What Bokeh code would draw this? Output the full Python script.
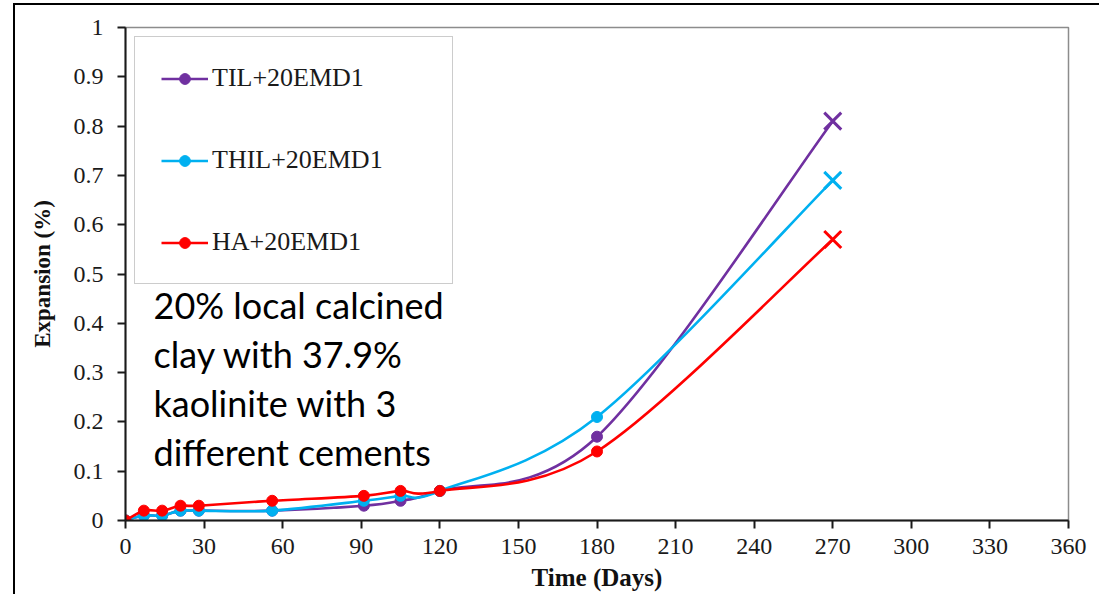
import numpy as np
from bokeh.plotting import figure
from bokeh.models import Range1d, FixedTicker, Legend, LegendItem, Label
from bokeh.embed import file_html
from bokeh.resources import INLINE

# ---------------- data ----------------
days = [0, 7, 14, 21, 28, 56, 91, 105, 120, 180, 270]
til = [0, 0.01, 0.01, 0.02, 0.02, 0.02, 0.03, 0.04, 0.06, 0.17, 0.81]
thil = [0, 0.01, 0.01, 0.02, 0.02, 0.02, 0.04, 0.05, 0.06, 0.21, 0.69]
ha = [0, 0.02, 0.02, 0.03, 0.03, 0.04, 0.05, 0.06, 0.06, 0.14, 0.57]
names = ["TIL+20EMD1", "THIL+20EMD1", "HA+20EMD1"]
colors = ["#7030A0", "#00B0F0", "#FF0000"]
x_ticks = [0, 30, 60, 90, 120, 150, 180, 210, 240, 270, 300, 330, 360]
y_ticks = [0, 0.1, 0.2, 0.3, 0.4, 0.5, 0.6, 0.7, 0.8, 0.9, 1]
note = "20% local calcined\nclay with 37.9%\nkaolinite with 3\ndifferent cements"

W, H = 1086, 591
p = figure(width=W, height=H, output_backend="svg", toolbar_location=None,
           x_range=Range1d(0, 360), y_range=Range1d(0, 1),
           min_border_left=110, min_border_right=W - 110 - 943,
           min_border_top=22, min_border_bottom=H - 22 - 493)
p.styles = {"border-left": "2px solid black", "border-top": "2px solid black",
            "margin-left": "13px", "margin-top": "3px"}
p.grid.visible = False
p.outline_line_color = "#8c8c8c"
p.outline_line_width = 1.5
p.background_fill_color = "white"
p.border_fill_color = "white"

serif = "Liberation Serif"
for ax in (p.xaxis[0], p.yaxis[0]):
    ax.axis_line_color = "#1a1a1a"
    ax.axis_line_width = 2
    ax.major_tick_line_color = "#1a1a1a"
    ax.major_tick_line_width = 2
    ax.major_tick_out = 8
    ax.major_tick_in = 0
    ax.minor_tick_line_color = None
    ax.major_label_text_font = serif
    ax.major_label_text_font_size = "24px"
    ax.major_label_text_color = "#1a1a1a"
    ax.axis_label_text_font = serif
    ax.axis_label_text_font_style = "bold"
    ax.axis_label_text_color = "#111111"
p.yaxis.axis_label_text_font_size = "23px"
p.xaxis.axis_label_text_font_size = "25px"

p.xaxis.ticker = FixedTicker(ticks=x_ticks)
p.yaxis.ticker = FixedTicker(ticks=y_ticks)
p.yaxis.major_label_overrides = {0: "0", 1: "1"}
p.xaxis.axis_label = "Time (Days)"
p.yaxis.axis_label = "Expansion (%)"
p.xaxis.major_label_standoff = 10
p.xaxis.axis_label_standoff = 7
p.yaxis.major_label_standoff = 14
p.yaxis.axis_label_standoff = 16


def smooth_segments(xs, ys):
    """Excel-style smoothed connector: cubic Bezier control points from neighbours."""
    xs = np.asarray(xs, float)
    ys = np.asarray(ys, float)
    n = len(xs)
    x0, y0, x1, y1, cx0, cy0, cx1, cy1 = [], [], [], [], [], [], [], []
    for i in range(n - 1):
        pm = max(i - 1, 0)
        pp = min(i + 2, n - 1)
        x0.append(xs[i]); y0.append(ys[i])
        x1.append(xs[i + 1]); y1.append(ys[i + 1])
        cx0.append(xs[i] + (xs[i + 1] - xs[pm]) / 6)
        cy0.append(ys[i] + (ys[i + 1] - ys[pm]) / 6)
        cx1.append(xs[i + 1] - (xs[pp] - xs[i]) / 6)
        cy1.append(ys[i + 1] - (ys[pp] - ys[i]) / 6)
    return dict(x0=x0, y0=y0, x1=x1, y1=y1, cx0=cx0, cy0=cy0, cx1=cx1, cy1=cy1)


items = []
for name, ys, c in zip(names, [til, thil, ha], colors):
    seg = smooth_segments(days, ys)
    p.bezier(source=seg, x0="x0", y0="y0", x1="x1", y1="y1",
             cx0="cx0", cy0="cy0", cx1="cx1", cy1="cy1",
             line_color=c, line_width=2.6)
    circ = p.scatter(days[:-1], ys[:-1], marker="circle", size=11,
                     fill_color=c, line_color=c)
    p.scatter(days[-1:], ys[-1:], marker="x", size=24, line_color=c,
              line_width=3)
    # legend-only line sample, its data lie outside the visible ranges
    leg_line = p.line(x=[-50, -40], y=[-1, -1], line_color=c, line_width=2.6)
    items.append(LegendItem(label=name, renderers=[leg_line, circ]))

legend = Legend(items=items, location="top_left",
                margin=9, padding=26, spacing=52,
                glyph_width=47, glyph_height=27, label_height=27,
                label_width=214, label_standoff=4,
                label_text_font=serif, label_text_font_size="26px",
                label_text_color="#1a1a1a",
                border_line_color="#999999", border_line_width=1.5,
                background_fill_color="white", background_fill_alpha=1)
p.add_layout(legend, "center")

p.add_layout(Label(x=10.7, y=0.481, text=note, text_font="Lato",
                   text_font_size="36px", text_color="black",
                   text_baseline="top", text_align="left",
                   text_line_height=1.11))

open("out.html", "w").write(file_html(p, INLINE))
